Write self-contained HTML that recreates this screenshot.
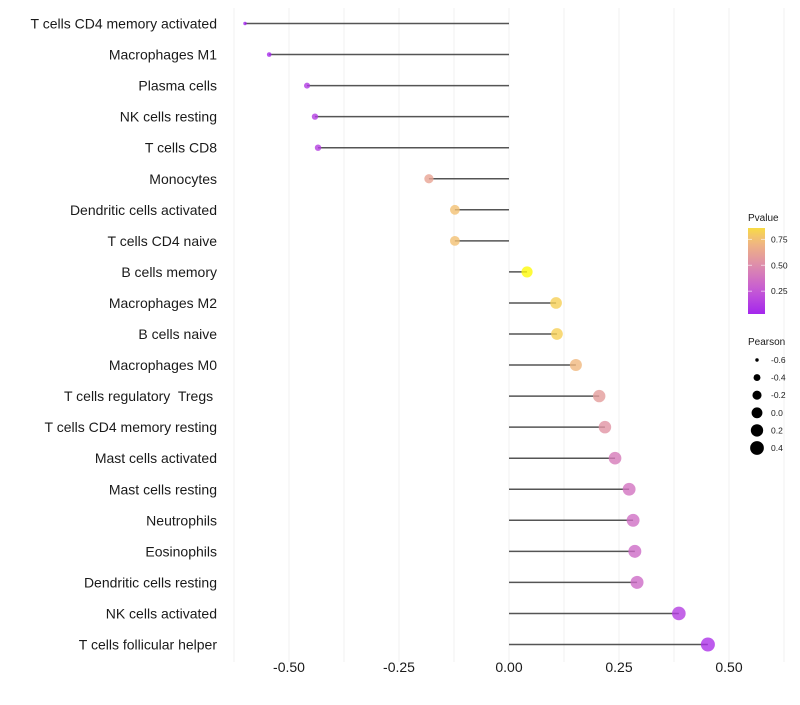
<!DOCTYPE html>
<html><head><meta charset="utf-8"><style>
body{margin:0;background:#fff;font-family:"Liberation Sans",sans-serif;}
text{white-space:pre;}
</style></head><body>
<svg id="chart" width="800" height="700"></svg>
<script>
const categories=["T cells CD4 memory activated","Macrophages M1","Plasma cells","NK cells resting","T cells CD8","Monocytes","Dendritic cells activated","T cells CD4 naive","B cells memory","Macrophages M2","B cells naive","Macrophages M0","T cells regulatory  Tregs ","T cells CD4 memory resting","Mast cells activated","Mast cells resting","Neutrophils","Eosinophils","Dendritic cells resting","NK cells activated","T cells follicular helper"];
const pearson=[-0.600,-0.545,-0.459,-0.441,-0.434,-0.182,-0.123,-0.123,0.041,0.107,0.109,0.152,0.205,0.218,0.241,0.273,0.282,0.286,0.291,0.386,0.452];
const pvalues=[0.02,0.04,0.12,0.13,0.14,0.62,0.76,0.76,0.98,0.82,0.82,0.72,0.58,0.54,0.42,0.38,0.36,0.34,0.34,0.14,0.08];
const xTicks=[-0.5,-0.25,0,0.25,0.5];
const xTickLabels=["-0.50","-0.25","0.00","0.25","0.50"];
const pLegendTicks=[0.25,0.5,0.75];
const sizeLegend=[-0.6,-0.4,-0.2,0.0,0.2,0.4];

const NS="http://www.w3.org/2000/svg";
const svg=document.getElementById('chart');
function mk(t,a,p){const e=document.createElementNS(NS,t);for(const k in a)e.setAttribute(k,a[k]);(p||svg).appendChild(e);return e;}
const X=v=>509+v*440;
const Y=i=>23.5+i*31.05;
const R=v=>Math.sqrt(3+44*(v+0.6));
const stops=[[0,[160,32,240]],[0.25,[196,88,214]],[0.5,[222,140,172]],[0.75,[242,190,120]],[1,[255,255,0]]];
function col(p){p=Math.max(0,Math.min(1,p));let k=0;while(k<stops.length-2&&p>stops[k+1][0])k++;
 const a=stops[k],b=stops[k+1],t=(p-a[0])/(b[0]-a[0]);
 return `rgb(${a[1].map((x,i)=>Math.round(x+(b[1][i]-x)*t)).join(',')})`;}
for(let v=-0.625;v<=0.626;v+=0.125){const g=mk('line',{x1:X(v),x2:X(v),y1:8,y2:662,stroke:'#f0f0f0','stroke-width':1});
}
categories.forEach((c,i)=>{
 const t=mk('text',{x:217,y:Y(i)+5,'text-anchor':'end','font-size':14,fill:'#1a1a1a'});t.textContent=c;
 
 const l=mk('line',{x1:X(0),x2:X(pearson[i]),y1:Y(i),y2:Y(i),stroke:'#555','stroke-width':1.5});
 
 const d=mk('circle',{cx:X(pearson[i]),cy:Y(i),r:R(pearson[i]),fill:col(pvalues[i]),'fill-opacity':0.8});
 
});
xTicks.forEach((v,i)=>{const t=mk('text',{x:X(v),y:672,'text-anchor':'middle','font-size':14,fill:'#1a1a1a'});t.textContent=xTickLabels[i];
});
const lt=mk('text',{x:748,y:221,'font-size':10,fill:'#1a1a1a'});lt.textContent='Pvalue';

const defs=mk('defs',{});const gr=mk('linearGradient',{id:'gr',x1:0,y1:1,x2:0,y2:0},defs);
for(let k=0;k<=10;k++){const p=0.03+k*0.083;mk('stop',{offset:k/10,'stop-color':col(p)},gr);}
const bar=mk('rect',{x:748,y:228,width:17,height:86,fill:'url(#gr)'});

const PY=p=>314-(p-0.03)/0.83*86;
pLegendTicks.forEach(p=>{mk('line',{x1:748,x2:752,y1:PY(p),y2:PY(p),stroke:'#fff','stroke-opacity':0.6});mk('line',{x1:761,x2:765,y1:PY(p),y2:PY(p),stroke:'#fff','stroke-opacity':0.6});
 const t=mk('text',{x:771,y:PY(p)+3,'font-size':8.5,fill:'#1a1a1a'});t.textContent=p.toFixed(2);
 });
const st=mk('text',{x:748,y:345,'font-size':10,fill:'#1a1a1a'});st.textContent='Pearson';

sizeLegend.forEach((v,i)=>{const y=360+i*17.6;
 const c=mk('circle',{cx:757,cy:y,r:R(v),fill:'#000'});
 const t=mk('text',{x:771,y:y+3,'font-size':8.5,fill:'#1a1a1a'});t.textContent=v.toFixed(1);
 });
</script>
</body></html>
